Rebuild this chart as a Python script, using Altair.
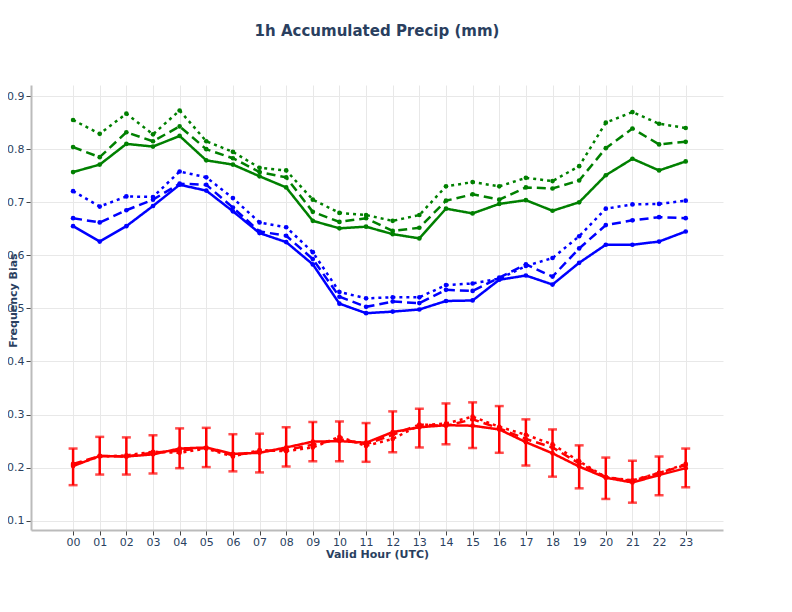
import altair as alt
import pandas as pd

hours = list(range(24))
hour_labels = [f"{h:02d}" for h in hours]

green_solid = [0.757, 0.771, 0.810, 0.805, 0.825, 0.779, 0.771, 0.749, 0.728, 0.665, 0.651, 0.654,
               0.640, 0.632, 0.688, 0.679, 0.697, 0.704, 0.684, 0.700, 0.751, 0.782, 0.760, 0.777]
green_dashed = [0.804, 0.785, 0.832, 0.815, 0.843, 0.800, 0.783, 0.757, 0.747, 0.682, 0.663, 0.670,
                0.646, 0.652, 0.703, 0.715, 0.705, 0.728, 0.726, 0.741, 0.802, 0.839, 0.809, 0.814]
green_dotted = [0.855, 0.829, 0.867, 0.828, 0.873, 0.815, 0.795, 0.765, 0.760, 0.705, 0.680, 0.676,
                0.665, 0.676, 0.730, 0.738, 0.730, 0.746, 0.740, 0.768, 0.850, 0.870, 0.848, 0.840]
blue_solid = [0.655, 0.626, 0.655, 0.693, 0.733, 0.722, 0.683, 0.642, 0.625, 0.583, 0.509, 0.491,
              0.494, 0.498, 0.514, 0.515, 0.554, 0.562, 0.545, 0.586, 0.620, 0.620, 0.626, 0.645]
blue_dashed = [0.670, 0.662, 0.685, 0.705, 0.735, 0.733, 0.690, 0.645, 0.637, 0.593, 0.522, 0.503,
               0.513, 0.510, 0.535, 0.533, 0.558, 0.583, 0.560, 0.613, 0.657, 0.666, 0.672, 0.670]
blue_dotted = [0.721, 0.692, 0.711, 0.710, 0.758, 0.747, 0.708, 0.662, 0.653, 0.606, 0.531, 0.519,
               0.521, 0.521, 0.544, 0.547, 0.556, 0.580, 0.595, 0.636, 0.688, 0.696, 0.697, 0.703]
red_solid = [0.203, 0.222, 0.221, 0.225, 0.236, 0.238, 0.226, 0.228, 0.238, 0.249, 0.250, 0.247,
             0.267, 0.276, 0.280, 0.279, 0.272, 0.248, 0.227, 0.202, 0.181, 0.172, 0.186, 0.199]
red_dashed = [0.207, 0.222, 0.221, 0.228, 0.232, 0.237, 0.223, 0.231, 0.233, 0.243, 0.254, 0.244,
              0.262, 0.281, 0.279, 0.291, 0.274, 0.254, 0.238, 0.208, 0.182, 0.175, 0.190, 0.205]
red_dotted = [0.205, 0.221, 0.223, 0.230, 0.228, 0.236, 0.221, 0.233, 0.231, 0.238, 0.258, 0.241,
              0.254, 0.280, 0.283, 0.296, 0.277, 0.262, 0.244, 0.212, 0.182, 0.176, 0.190, 0.207]
red_lower = [0.167, 0.187, 0.187, 0.189, 0.199, 0.201, 0.193, 0.191, 0.202, 0.212, 0.212, 0.211,
             0.229, 0.238, 0.244, 0.237, 0.228, 0.204, 0.183, 0.161, 0.141, 0.134, 0.148, 0.163]
red_upper = [0.236, 0.258, 0.257, 0.261, 0.274, 0.275, 0.263, 0.264, 0.276, 0.286, 0.287, 0.284,
             0.306, 0.311, 0.321, 0.323, 0.316, 0.291, 0.272, 0.242, 0.219, 0.213, 0.221, 0.236]

series = {
    "green_solid": green_solid, "green_dashed": green_dashed, "green_dotted": green_dotted,
    "blue_solid": blue_solid, "blue_dashed": blue_dashed, "blue_dotted": blue_dotted,
    "red_solid": red_solid, "red_dashed": red_dashed, "red_dotted": red_dotted,
}
rows = []
for name, vals in series.items():
    for h, v in zip(hours, vals):
        rows.append({"hour": h, "value": v, "series": name})
df = pd.DataFrame(rows)
err = pd.DataFrame({"hour": hours, "lo": red_lower, "hi": red_upper})

names = list(series.keys())
colors = {"green": "#008000", "blue": "#0000ff", "red": "#ff0000"}
dashes = {"solid": [1, 0], "dashed": [9, 5], "dotted": [3, 4]}
color_range = [colors[n.split("_")[0]] for n in names]
dash_range = [dashes[n.split("_")[1]] for n in names]

x_scale = alt.Scale(domain=[-1.58, 24.4], nice=False, zero=False)
y_scale = alt.Scale(domain=[0.0825, 0.921], nice=False, zero=False)

label_expr = "datum.value < 10 ? '0' + datum.value : '' + datum.value"

x_axis = alt.Axis(title="Valid Hour (UTC)", values=hours, labelExpr=label_expr,
                  labelOverlap=False, labelBound=False, labelFlush=False,
                  grid=True, gridColor="#e8e8e8", domainColor="#bbbbbb", domainWidth=2,
                  tickColor="#444444", tickSize=5, labelColor="#2a3f5f", labelFontSize=11,
                  labelFont="DejaVu Sans", titleFont="DejaVu Sans", titleFontSize=11,
                  titleColor="#2a3f5f", titleFontWeight="bold", titlePadding=1,
                  labelPadding=1)
y_axis = alt.Axis(title="Frequency Bias", values=[0.1, 0.2, 0.3, 0.4, 0.5, 0.6, 0.7, 0.8, 0.9],
                  format=".1f", grid=True, gridColor="#e8e8e8", domainColor="#bbbbbb",
                  domainWidth=2, tickColor="#444444", tickSize=5, labelColor="#2a3f5f",
                  labelFontSize=11, labelFont="DejaVu Sans", titleFont="DejaVu Sans",
                  titleFontSize=11, titleColor="#2a3f5f", titleFontWeight="bold",
                  titleX=-18, titleY=215, titleAngle=270, titleBaseline="middle",
                  titleAlign="center", labelOverlap=False)

color_enc = alt.Color("series:N", scale=alt.Scale(domain=names, range=color_range), legend=None)

base = alt.Chart(df)
lines = base.mark_line(strokeWidth=2.5).encode(
    x=alt.X("hour:Q", scale=x_scale, axis=x_axis),
    y=alt.Y("value:Q", scale=y_scale, axis=y_axis),
    color=color_enc,
    strokeDash=alt.StrokeDash("series:N", scale=alt.Scale(domain=names, range=dash_range), legend=None),
)
points = base.mark_circle(size=22, opacity=1).encode(
    x=alt.X("hour:Q", scale=x_scale, axis=x_axis),
    y=alt.Y("value:Q", scale=y_scale, axis=y_axis),
    color=color_enc,
)
ebase = alt.Chart(err)
erules = ebase.mark_rule(color="#ff0000", strokeWidth=2.5).encode(
    x=alt.X("hour:Q", scale=x_scale, axis=x_axis),
    y=alt.Y("lo:Q", scale=y_scale, axis=y_axis), y2="hi:Q")
cap_lo = ebase.mark_tick(color="#ff0000", orient="horizontal", size=9, thickness=2.5).encode(
    x=alt.X("hour:Q", scale=x_scale, axis=x_axis),
    y=alt.Y("lo:Q", scale=y_scale, axis=y_axis))
cap_hi = ebase.mark_tick(color="#ff0000", orient="horizontal", size=9, thickness=2.5).encode(
    x=alt.X("hour:Q", scale=x_scale, axis=x_axis),
    y=alt.Y("hi:Q", scale=y_scale, axis=y_axis))

chart = alt.layer(lines, points, erules, cap_lo, cap_hi).resolve_axis(
    x="shared", y="shared"
).properties(
    width=692, height=445,
    title=alt.Title("1h Accumulated Precip (mm)", font="DejaVu Sans", fontSize=15,
                    fontWeight="bold", color="#2a3f5f", offset=46),
    autosize=alt.AutoSizeParams(type="none"),
    padding={"left": 23, "top": 77, "right": 50, "bottom": 60},
).configure_view(stroke=None).configure_axis(labelOverlap=False)

chart.save("out.html", embed_options={"renderer": "svg", "actions": False})
